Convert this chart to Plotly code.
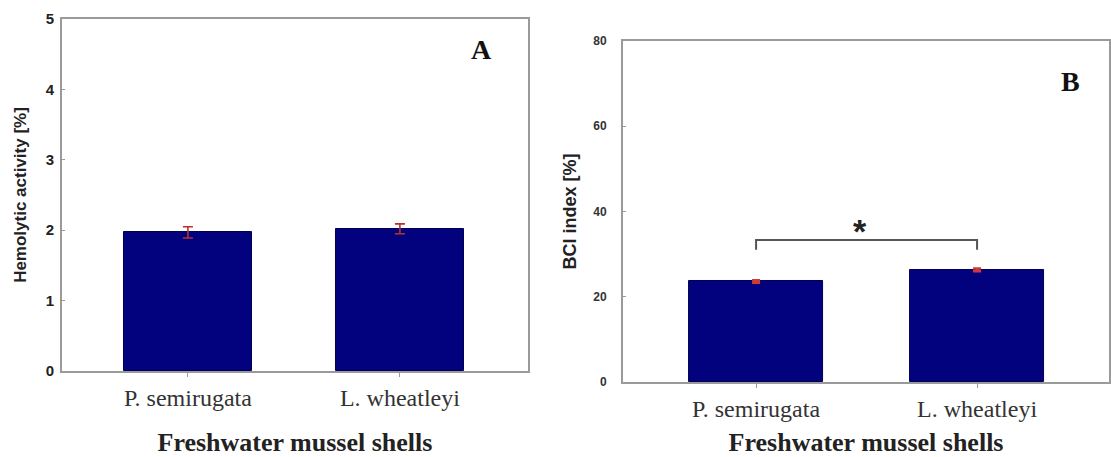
import plotly.graph_objects as go

# Mussel species on the x axis of both panels
species = ["P. semirugata", "L. wheatleyi"]

# Panel A: hemolytic activity [%]
hemolytic_mean = [1.97, 2.02]
hemolytic_err = [0.08, 0.07]

# Panel B: BCI index [%]
bci_mean = [23.6, 26.3]
bci_err = [0.3, 0.3]

# Significance bracket between the two species in panel B
bracket_x = [0, 0, 1, 1]
bracket_y = [31.0, 33.3, 33.3, 31.0]

BAR_COLOR = "#02027e"
ERR_COLOR = "#b8312f"
FRAME = "#9a9a9a"
SERIF = "Liberation Serif, Times New Roman, serif"
SANS = "Liberation Sans, Arial, sans-serif"

fig = go.Figure()

fig.add_trace(go.Bar(
    x=[0, 1], y=hemolytic_mean, width=0.604,
    marker=dict(color=BAR_COLOR, line=dict(color="#000050", width=1)),
    error_y=dict(type="data", array=hemolytic_err, color=ERR_COLOR,
                 thickness=1.6, width=5),
    xaxis="x", yaxis="y", showlegend=False,
))

fig.add_trace(go.Bar(
    x=[0, 1], y=bci_mean, width=0.606,
    marker=dict(color=BAR_COLOR, line=dict(color="#000050", width=1)),
    error_y=dict(type="data", array=bci_err, color="#d03a3a",
                 thickness=2.5, width=4),
    xaxis="x2", yaxis="y2", showlegend=False,
))

fig.add_trace(go.Scatter(
    x=bracket_x, y=bracket_y, mode="lines",
    line=dict(color="#555555", width=2),
    xaxis="x2", yaxis="y2", showlegend=False, hoverinfo="skip",
))

xcommon = dict(
    tickmode="array", tickvals=[0, 1], ticktext=species,
    showline=True, linecolor=FRAME, linewidth=2, mirror=True,
    ticks="outside", ticklen=4, tickcolor=FRAME, tickwidth=1,
    tickfont=dict(family=SERIF, size=24, color="#333333"),
    showgrid=False, zeroline=False, automargin=False,
)
ycommon = dict(
    showline=True, linecolor=FRAME, linewidth=2, mirror=True,
    ticks="inside", ticklen=3, tickcolor=FRAME, tickwidth=1,
    showgrid=False, zeroline=False, automargin=False,
)

fig.update_layout(
    width=1111, height=457,
    margin=dict(l=0, r=0, t=0, b=0, autoexpand=False),
    paper_bgcolor="white", plot_bgcolor="white",
    bargap=0,
    xaxis=dict(domain=[0.0558, 0.4752], range=[-0.594, 1.604], anchor="y",
               title=dict(text="<b>Freshwater mussel shells</b>",
                          font=dict(family=SERIF, size=26, color="#222222"),
                          standoff=23),
               **xcommon),
    yaxis=dict(domain=[0.1882, 0.9584], range=[0, 5], anchor="x",
               tickvals=[0, 1, 2, 3, 4, 5],
               tickfont=dict(family=SANS, size=15, color="#222222", weight="bold"),
               ticklabelstandoff=3,
               title=dict(text="<b>Hemolytic activity [%]</b>",
                          font=dict(family=SANS, size=17, color="#222222"),
                          standoff=15),
               **ycommon),
    xaxis2=dict(domain=[0.5608, 0.9982], range=[-0.602, 1.597], anchor="y2",
                title=dict(text="<b>Freshwater mussel shells</b>",
                           font=dict(family=SERIF, size=26, color="#222222"),
                           standoff=21),
                **xcommon),
    yaxis2=dict(domain=[0.1641, 0.9103], range=[0, 80], anchor="x2",
                tickvals=[0, 20, 40, 60, 80],
                tickfont=dict(family=SANS, size=12, color="#333333", weight="bold"),
                ticklabelstandoff=12,
                title=dict(text="<b>BCI index [%]</b>",
                           font=dict(family=SANS, size=18, color="#222222"),
                           standoff=12),
                **ycommon),
    annotations=[
        dict(text="<b>A</b>", x=1.387, y=4.56, xref="x", yref="y",
             showarrow=False, font=dict(family=SERIF, size=28, color="#111111")),
        dict(text="<b>B</b>", x=1.425, y=70.4, xref="x2", yref="y2",
             showarrow=False, font=dict(family=SERIF, size=28, color="#111111")),
        dict(text="<b>*</b>", x=0.47, y=35.5, xref="x2", yref="y2",
             showarrow=False, font=dict(family=SANS, size=34, color="#222222")),
    ],
)

fig.write_html("out.html")
